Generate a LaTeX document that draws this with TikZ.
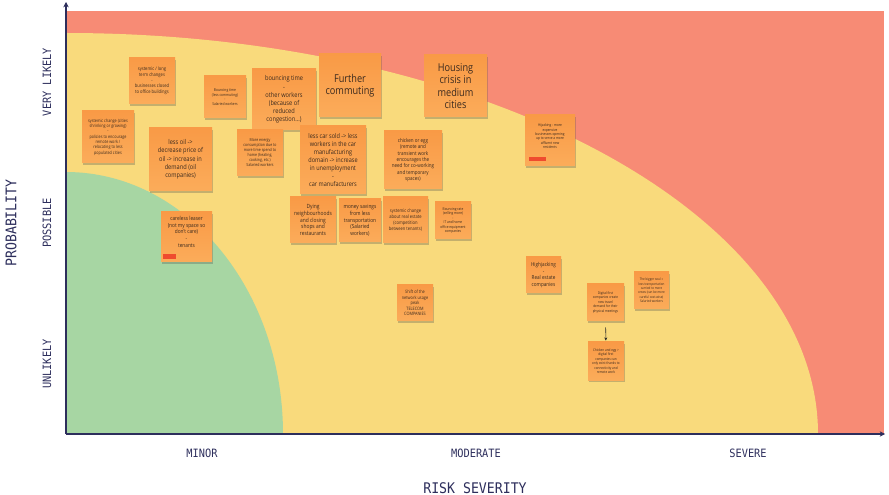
\documentclass[tikz,border=0pt]{standalone}
\usepackage{fontspec}
\setmainfont[FakeStretch=0.85]{Open Sans}
\newfontfamily\axisfont[FakeStretch=0.9]{DejaVu Sans Mono}
\usetikzlibrary{shadows,arrows.meta}

\definecolor{zonered}{RGB}{247,139,117}
\definecolor{zoneyellow}{RGB}{249,218,124}
\definecolor{zonegreen}{RGB}{167,214,163}
\definecolor{notetop}{RGB}{249,154,70}
\definecolor{notebot}{RGB}{251,172,90}
\definecolor{notetext}{RGB}{59,42,30}
\definecolor{tagred}{RGB}{239,75,47}
\definecolor{axisblue}{RGB}{45,46,92}

\tikzset{
  sticky/.style={top color=notetop, bottom color=notebot, text=notetext, align=center, inner sep=1pt,
    drop shadow={shadow xshift=0.4pt, shadow yshift=-1.6pt, opacity=0.3, fill=black!70}},
  axisline/.style={draw=axisblue, line width=1.4pt, -{Stealth[length=4pt,width=4pt]}},
  ticklabel/.style={text=axisblue, font=\axisfont\fontsize{8.6}{10}\selectfont},
  axistitle/.style={text=axisblue, font=\axisfont\fontsize{11}{13}\selectfont},
  linkarrow/.style={draw=black!85, line width=0.4pt, -{Stealth[length=2.5pt,width=2.2pt]}, shorten <=4.5pt, shorten >=0.8pt}
}

\begin{document}
\begin{tikzpicture}[x=0.75pt,y=0.75pt,yscale=-1,xscale=1]
\useasboundingbox (0,0) rectangle (889,495);

%Shape: Rectangle [red zone]
\fill[zonered] (66,11) rectangle (884,434);
%Shape: Quarter ellipse [yellow zone]
\fill[zoneyellow] (66,434) -- (66,33) arc[start angle=-90, end angle=0, x radius=752, y radius=401] -- cycle;
%Shape: Quarter ellipse [green zone]
\fill[zonegreen] (66,434) -- (66,172) arc[start angle=-90, end angle=0, x radius=217, y radius=262] -- cycle;

%Axes
\coordinate (origin) at (66,434);
\coordinate (xend) at (885,434);
\coordinate (yend) at (66,2);
\draw[axisline] (origin) -- (xend);
\draw[axisline] (origin) -- (yend);

% Axis labels
\node[ticklabel, rotate=90] (vlikely) at (47,82) {VERY LIKELY};
\node[ticklabel, rotate=90] (possible) at (47,223) {POSSIBLE};
\node[ticklabel, rotate=90] (unlikely) at (47,364) {UNLIKELY};
\node[axistitle, rotate=90] (prob) at (11,223) {PROBABILITY};
\node[ticklabel] (minor) at (202,453) {MINOR};
\node[ticklabel] (moderate) at (476,453) {MODERATE};
\node[ticklabel] (severe) at (748,453) {SEVERE};
\node[axistitle] (sever) at (475,488) {RISK SEVERITY};

% Sticky notes
\node[sticky, minimum width=34.5pt, minimum height=34.5pt, font=\fontsize{3.6}{4.3}\selectfont] (longterm) at (152,81) {systemic / long\\term changes\\-\\businesses closed\\to office buildings};
\node[sticky, minimum width=31.5pt, minimum height=31.5pt, font=\fontsize{2.9}{3.4}\selectfont] (bouncesal) at (225,97) {Bouncing time\\(less commuting)\\-\\Salaried workers};
\node[sticky, minimum width=48pt, minimum height=45.75pt, font=\fontsize{5}{6.1}\selectfont] (bounceoth) at (284,99.5) {bouncing time\\-\\other workers\\(because of\\reduced\\congestion...)};
\node[sticky, minimum width=46.5pt, minimum height=47.25pt, font=\fontsize{8.1}{9.3}\selectfont] (commute) at (350,85.5) {Further\\commuting};
\node[sticky, minimum width=47.25pt, minimum height=46.5pt, font=\fontsize{8.1}{9.4}\selectfont] (housing) at (455.5,86) {Housing\\crisis in\\medium\\cities};
\node[sticky, minimum width=39pt, minimum height=39pt, font=\fontsize{3.3}{4}\selectfont] (cities) at (108,137) {systemic change (cities\\shrinking or growing)\\-\\policies to encourage\\remote work /\\relocating to less\\populated cities};
\node[sticky, minimum width=47.25pt, minimum height=47.25pt, font=\fontsize{5}{6.2}\selectfont] (oil) at (180.5,159.5) {less oil ->\\decrease price of\\oil -> increase in\\demand (oil\\companies)};
\node[sticky, minimum width=34.5pt, minimum height=34.5pt, font=\fontsize{3.1}{3.75}\selectfont] (energy) at (260,153) {More energy\\consumption due to\\more time spend to\\home (heating,\\cooking, etc.)\\Salaried workers};
\node[sticky, minimum width=38.25pt, minimum height=37.5pt, font=\fontsize{4.2}{5}\selectfont] (leaser) at (186.5,237) {careless leaser\\(not my space so\\don't care)\\-\\tenants\\[3pt]};
\node[sticky, minimum width=49.5pt, minimum height=51pt, font=\fontsize{4.9}{6}\selectfont] (cars) at (333,160) {less car sold -> less\\workers in the car\\manufacturing\\domain -> increase\\in unemployment\\-\\car manufacturers};
\node[sticky, minimum width=43.5pt, minimum height=43.5pt, font=\fontsize{4}{4.75}\selectfont] (coworking) at (413,160) {chicken or egg\\(remote and\\transient work\\encourages the\\need for co-working\\and temporary\\spaces)};
\node[sticky, minimum width=34.5pt, minimum height=34.5pt, font=\fontsize{4.3}{5.1}\selectfont] (shops) at (313,220) {Dying\\neighbourhoods\\and closing\\shops and\\restaurants};
\node[sticky, minimum width=31.5pt, minimum height=32.25pt, font=\fontsize{4.2}{5}\selectfont] (savings) at (360,220.5) {money savings\\from less\\transportation\\(Salaried\\workers)};
\node[sticky, minimum width=33.75pt, minimum height=34.5pt, font=\fontsize{3.6}{4.4}\selectfont] (realestate) at (405.5,220) {systemic change\\about real estate\\(competition\\between tenants)};
\node[sticky, minimum width=27pt, minimum height=27.75pt, font=\fontsize{2.8}{3.4}\selectfont] (bouncerate) at (453,220.5) {Bouncing rate\\(selling more)\\-\\IT and home\\office equipment\\companies};
\node[sticky, minimum width=37.5pt, minimum height=38.25pt, font=\fontsize{2.8}{3.3}\selectfont] (hijack) at (550,140.5) {Hijacking - more\\expensive\\businesses opening\\up to serve a more\\affluent new\\residents\\[3pt]};
\node[sticky, minimum width=27pt, minimum height=27pt, font=\fontsize{3.4}{4.2}\selectfont] (network) at (415,303) {Shift of the\\network usage\\peak\\TELECOM\\COMPANIES};
\node[sticky, minimum width=26.25pt, minimum height=27pt, font=\fontsize{4.1}{5}\selectfont] (highjack) at (543.5,275) {Highjacking\\-\\Real estate\\companies};
\node[sticky, minimum width=27.75pt, minimum height=27.75pt, font=\fontsize{2.7}{3.4}\selectfont] (digital) at (605.5,302.5) {Digital first\\companies create\\new travel\\demand for their\\physical meetings};
\node[sticky, minimum width=26.25pt, minimum height=27.75pt, font=\fontsize{2.6}{3.3}\selectfont] (bigger) at (651.5,290.5) {The bigger soul =\\less transportation\\carried to more\\crews (can be more\\careful cost-wise)\\Salaried workers};
\node[sticky, minimum width=27pt, minimum height=28.5pt, font=\fontsize{2.7}{3.4}\selectfont] (chicken) at (606,361) {Chicken and egg >\\digital first\\companies can\\only exist thanks to\\connectivity and\\remote work};

%Shape: Red tags
\fill[tagred] (163,254) rectangle (176,259);
\fill[tagred] (529,157) rectangle (546,161);

%Straight Lines [link]
\draw[linkarrow] (digital) -- (chicken);

\end{tikzpicture}
\end{document}
